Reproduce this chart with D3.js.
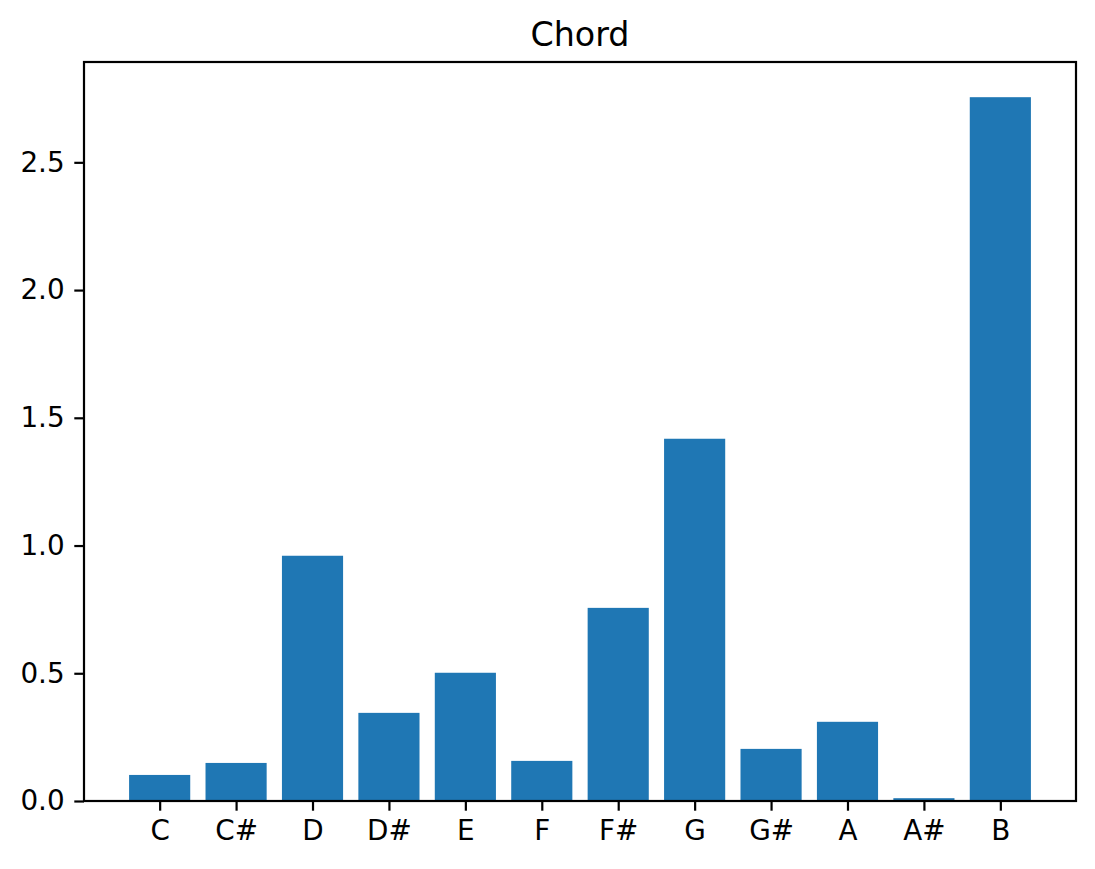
<!DOCTYPE html>
<html>
<head>
<meta charset="utf-8">
<script src="https://cdn.jsdelivr.net/npm/d3@7"></script>
<style>
html, body { margin: 0; padding: 0; background: #fff; }
text { font-family: "DejaVu Sans", sans-serif; fill: #000; }
</style>
</head>
<body>
<svg id="chart" width="1095" height="869"></svg>
<script>
const categories = ["C", "C#", "D", "D#", "E", "F", "F#", "G", "G#", "A", "A#", "B"];
const values = [0.102, 0.149, 0.960, 0.345, 0.502, 0.157, 0.756, 1.418, 0.204, 0.310, 0.011, 2.755];
const yTicks = [0.0, 0.5, 1.0, 1.5, 2.0, 2.5];
const title = "Chord";

const svg = d3.select("#chart");
const pLeft = 84, pRight = 1076, pTop = 62, pBottom = 801;
const barWidth = 0.8;
const n = categories.length;
const xMin = -barWidth / 2, xMax = n - 1 + barWidth / 2;
const xPad = (xMax - xMin) * 0.05;
const x = d3.scaleLinear().domain([xMin - xPad, xMax + xPad]).range([pLeft, pRight]);
const yMax = d3.max(values) * 1.05;
const y = d3.scaleLinear().domain([0, yMax]).range([pBottom, pTop]);

const tickLen = 9.7, pad = 9.7, lw = 2.2;

svg.append("g").selectAll("rect").data(values).join("rect")
  .attr("x", (d, i) => x(i - barWidth / 2))
  .attr("width", (d, i) => x(i + barWidth / 2) - x(i - barWidth / 2))
  .attr("y", d => y(d))
  .attr("height", d => y(0) - y(d))
  .attr("fill", "#1f77b4");

// x axis
const xAxis = d3.axisBottom(x)
  .tickValues(d3.range(n))
  .tickFormat(i => categories[i])
  .tickSize(tickLen).tickPadding(pad);
const gx = svg.append("g").attr("transform", `translate(0,${pBottom})`).call(xAxis);
gx.select(".domain").remove();
gx.selectAll("line").attr("stroke", "#000").attr("stroke-width", lw);
gx.selectAll("text").attr("font-size", 27.8).attr("font-family", "DejaVu Sans").attr("fill", "#000");

// y axis
const yAxis = d3.axisLeft(y)
  .tickValues(yTicks)
  .tickFormat(d3.format(".1f"))
  .tickSize(tickLen).tickPadding(pad);
const gy = svg.append("g").attr("transform", `translate(${pLeft},0)`).call(yAxis);
gy.select(".domain").remove();
gy.selectAll("line").attr("stroke", "#000").attr("stroke-width", lw);
gy.selectAll("text").attr("font-size", 27.8).attr("font-family", "DejaVu Sans").attr("fill", "#000");

// frame
svg.append("rect")
  .attr("x", pLeft).attr("y", pTop)
  .attr("width", pRight - pLeft).attr("height", pBottom - pTop)
  .attr("fill", "none").attr("stroke", "#000").attr("stroke-width", lw)
  .attr("stroke-linejoin", "miter");

svg.append("text")
  .attr("x", (pLeft + pRight) / 2).attr("y", pTop - 16.5)
  .attr("text-anchor", "middle")
  .attr("font-size", 33.3)
  .text(title);
</script>
</body>
</html>
